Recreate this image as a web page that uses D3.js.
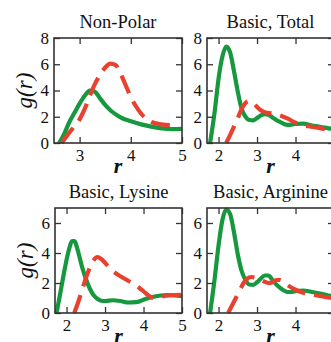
<!DOCTYPE html>
<html>
<head>
<meta charset="utf-8">
<script src="https://cdn.jsdelivr.net/npm/d3@7"></script>
<style>
  body { margin: 0; background: #fff; }
  svg { display: block; }
</style>
</head>
<body>
<div id="chart"></div>
<script>
// panel titles
var titles = ['Non-Polar', 'Basic, Total', 'Basic, Lysine', 'Basic, Arginine'];

// Non-Polar
var rNonPolarSolid = [2.6, 2.7, 2.8, 2.9, 3.0, 3.1, 3.2, 3.3, 3.4, 3.5, 3.6, 3.7, 3.8, 4.0, 4.2, 4.4, 4.6, 4.8, 5.0];
var gNonPolarSolid = [0, 0.7, 1.6, 2.3, 3.0, 3.6, 4.0, 3.9, 3.4, 2.9, 2.5, 2.2, 1.95, 1.65, 1.42, 1.25, 1.12, 1.05, 1.08];
var rNonPolarDash = [2.65, 2.8, 3.0, 3.1, 3.2, 3.3, 3.4, 3.5, 3.6, 3.7, 3.8, 3.9, 4.0, 4.1, 4.2, 4.3, 4.4, 4.6, 4.8];
var gNonPolarDash = [0, 0.8, 1.8, 2.6, 3.6, 4.5, 5.2, 5.75, 6.05, 5.95, 5.3, 4.4, 3.5, 2.8, 2.25, 1.85, 1.6, 1.42, 1.35];

// Basic, Total
var rTotalSolid = [1.78, 1.9, 2.0, 2.1, 2.2, 2.3, 2.4, 2.5, 2.6, 2.7, 2.8, 2.9, 3.0, 3.1, 3.2, 3.3, 3.4, 3.5, 3.6, 3.7, 3.8, 3.9, 4.0, 4.2, 4.4, 4.6, 4.8, 5.0];
var gTotalSolid = [0, 2.4, 4.9, 6.6, 7.35, 6.9, 5.5, 3.9, 2.6, 2.0, 1.75, 1.72, 1.9, 2.1, 2.2, 2.15, 1.95, 1.75, 1.6, 1.45, 1.38, 1.4, 1.45, 1.48, 1.35, 1.25, 1.15, 1.05];
var rTotalDash = [2.2, 2.3, 2.4, 2.5, 2.6, 2.7, 2.8, 2.9, 3.0, 3.1, 3.2, 3.4, 3.6, 3.8, 4.0, 4.2, 4.4, 4.6, 4.8, 5.0];
var gTotalDash = [0, 0.6, 1.25, 1.9, 2.6, 3.05, 3.2, 3.05, 2.75, 2.5, 2.35, 2.25, 2.1, 1.85, 1.55, 1.35, 1.25, 1.15, 1.05, 1.0];

// Basic, Lysine
var rLysSolid = [1.74, 1.85, 1.95, 2.05, 2.15, 2.2, 2.3, 2.4, 2.5, 2.6, 2.7, 2.8, 2.9, 3.0, 3.2, 3.4, 3.6, 3.8, 4.0, 4.2, 4.4, 4.6, 4.8, 5.0];
var gLysSolid = [0, 1.5, 2.9, 4.1, 4.8, 4.8, 4.1, 3.1, 2.3, 1.65, 1.2, 0.95, 0.82, 0.8, 0.85, 0.8, 0.7, 0.72, 0.88, 1.05, 1.15, 1.2, 1.18, 1.12];
var rLysDash = [2.2, 2.3, 2.4, 2.5, 2.6, 2.7, 2.8, 2.9, 3.0, 3.1, 3.2, 3.4, 3.6, 3.8, 3.9, 4.0, 4.1, 4.2, 4.3, 4.4, 4.6, 4.8, 5.0];
var gLysDash = [0, 0.7, 1.5, 2.3, 3.0, 3.5, 3.72, 3.6, 3.35, 3.05, 2.8, 2.45, 2.15, 1.85, 1.65, 1.45, 1.22, 1.05, 0.98, 1.05, 1.15, 1.2, 1.22];

// Basic, Arginine
var rArgSolid = [1.78, 1.9, 2.0, 2.1, 2.2, 2.3, 2.4, 2.5, 2.6, 2.7, 2.8, 2.9, 3.0, 3.1, 3.2, 3.3, 3.4, 3.5, 3.6, 3.7, 3.8, 3.9, 4.0, 4.2, 4.4, 4.6, 4.8, 5.0];
var gArgSolid = [0, 2.3, 4.5, 6.2, 6.9, 6.6, 5.4, 3.9, 2.8, 2.2, 1.9, 1.88, 2.05, 2.3, 2.5, 2.5, 2.2, 1.9, 1.68, 1.5, 1.4, 1.4, 1.45, 1.5, 1.42, 1.32, 1.2, 1.1];
var rArgDash = [2.25, 2.35, 2.45, 2.55, 2.65, 2.75, 2.85, 2.95, 3.1, 3.3, 3.4, 3.5, 3.6, 3.7, 3.8, 4.0, 4.2, 4.4, 4.6, 4.8, 5.0];
var gArgDash = [0, 0.5, 1.0, 1.5, 2.0, 2.3, 2.4, 2.35, 2.2, 2.0, 2.05, 2.2, 2.2, 2.05, 1.85, 1.55, 1.35, 1.25, 1.15, 1.05, 1.0];

// tick values
var xTicksNonPolar = [3, 4, 5];
var xTicksBasic = [2, 3, 4];
var yTicksTop = [0, 2, 4, 6, 8];
var yTicksBottom = [0, 2, 4, 6];

var width = 331, height = 342;
var green = '#16983f', red = '#e8412f';
var serif = "Liberation Serif, Tinos, Nimbus Roman, Nimbus Roman No9 L, FreeSerif, TeX Gyre Termes, DejaVu Serif, Noto Serif, Times New Roman, Times, serif";

var svg = d3.select('#chart').append('svg')
    .attr('width', width)
    .attr('height', height)
    .style('font-family', serif);

var panels = [
    { title: titles[0], left: 54, top: 38, x: [2.5, 5], y: [0, 8], xt: xTicksNonPolar, yt: yTicksTop,
      solid: [rNonPolarSolid, gNonPolarSolid], dash: [rNonPolarDash, gNonPolarDash], ylab: true },
    { title: titles[1], left: 207, top: 38, x: [1.7, 5], y: [0, 8], xt: xTicksBasic, yt: yTicksTop,
      solid: [rTotalSolid, gTotalSolid], dash: [rTotalDash, gTotalDash], ylab: false },
    { title: titles[2], left: 55, top: 208, x: [1.7, 5], y: [0, 7], xt: xTicksBasic.concat([5]), yt: yTicksBottom,
      solid: [rLysSolid, gLysSolid], dash: [rLysDash, gLysDash], ylab: true },
    { title: titles[3], left: 207, top: 208, x: [1.7, 5], y: [0, 7], xt: xTicksBasic, yt: yTicksBottom,
      solid: [rArgSolid, gArgSolid], dash: [rArgDash, gArgDash], ylab: false }
];

var pw = 127, ph = 105;

panels.forEach(function(p) {
    var g = svg.append('g').attr('transform', `translate(${p.left}, ${p.top})`);
    var w = p.left === 54 ? pw + 1 : pw;

    var x = d3.scaleLinear().domain(p.x).range([0, w]);
    var y = d3.scaleLinear().domain(p.y).range([ph, 0]);

    var line = d3.line()
        .x(d => x(d[0]))
        .y(d => y(d[1]))
        .curve(d3.curveMonotoneX);

    var solidData = p.solid[0].map((r, i) => [r, p.solid[1][i]]);
    var dashData = p.dash[0].map((r, i) => [r, p.dash[1][i]]);

    g.append('path')
        .datum(solidData)
        .attr('d', line)
        .attr('fill', 'none')
        .attr('stroke', green)
        .attr('stroke-width', 4.2)
        .attr('stroke-linejoin', 'round');

    g.append('path')
        .datum(dashData)
        .attr('d', line)
        .attr('fill', 'none')
        .attr('stroke', red)
        .attr('stroke-width', 4.2)
        .attr('stroke-dasharray', '19,9');

    // axes, ticks pointing inward
    var ax = [
        g.append('g').attr('transform', `translate(0, ${ph})`)
            .call(d3.axisBottom(x).tickValues(p.xt).tickSize(-6).tickSizeOuter(0).tickPadding(6).tickFormat(d3.format('d'))),
        g.append('g')
            .call(d3.axisTop(x).tickValues(p.xt).tickSize(-6).tickSizeOuter(0).tickFormat('')),
        g.append('g')
            .call(d3.axisLeft(y).tickValues(p.yt).tickSize(-6).tickSizeOuter(0).tickPadding(5).tickFormat(d3.format('d'))),
        g.append('g').attr('transform', `translate(${w}, 0)`)
            .call(d3.axisRight(y).tickValues(p.yt).tickSize(-6).tickSizeOuter(0).tickFormat(''))
    ];
    ax.forEach(a => {
        a.attr('font-family', null).attr('font-size', 17);
        a.select('.domain').remove();
        a.selectAll('line').attr('stroke', '#333').attr('stroke-width', 1.3);
        a.selectAll('text').attr('fill', '#111');
    });

    g.append('rect')
        .attr('width', w).attr('height', ph)
        .attr('fill', 'none')
        .attr('stroke', '#333')
        .attr('stroke-width', 1.6);

    g.append('text')
        .attr('x', w / 2).attr('y', -10)
        .attr('text-anchor', 'middle')
        .attr('font-size', 18.5)
        .attr('fill', '#111')
        .text(p.title);

    g.append('text')
        .attr('x', w / 2).attr('y', ph + 30)
        .attr('text-anchor', 'middle')
        .attr('font-size', 22)
        .attr('font-style', 'italic')
        .attr('font-weight', 'bold')
        .attr('fill', '#111')
        .text('r');

    if (p.ylab) {
        g.append('text')
            .attr('transform', `translate(-22, ${ph / 2}) rotate(-90)`)
            .attr('text-anchor', 'middle')
            .attr('font-size', 23)
            .attr('font-style', 'italic')
            .attr('fill', '#111')
            .text('g(r)');
    }
});
</script>
</body>
</html>
